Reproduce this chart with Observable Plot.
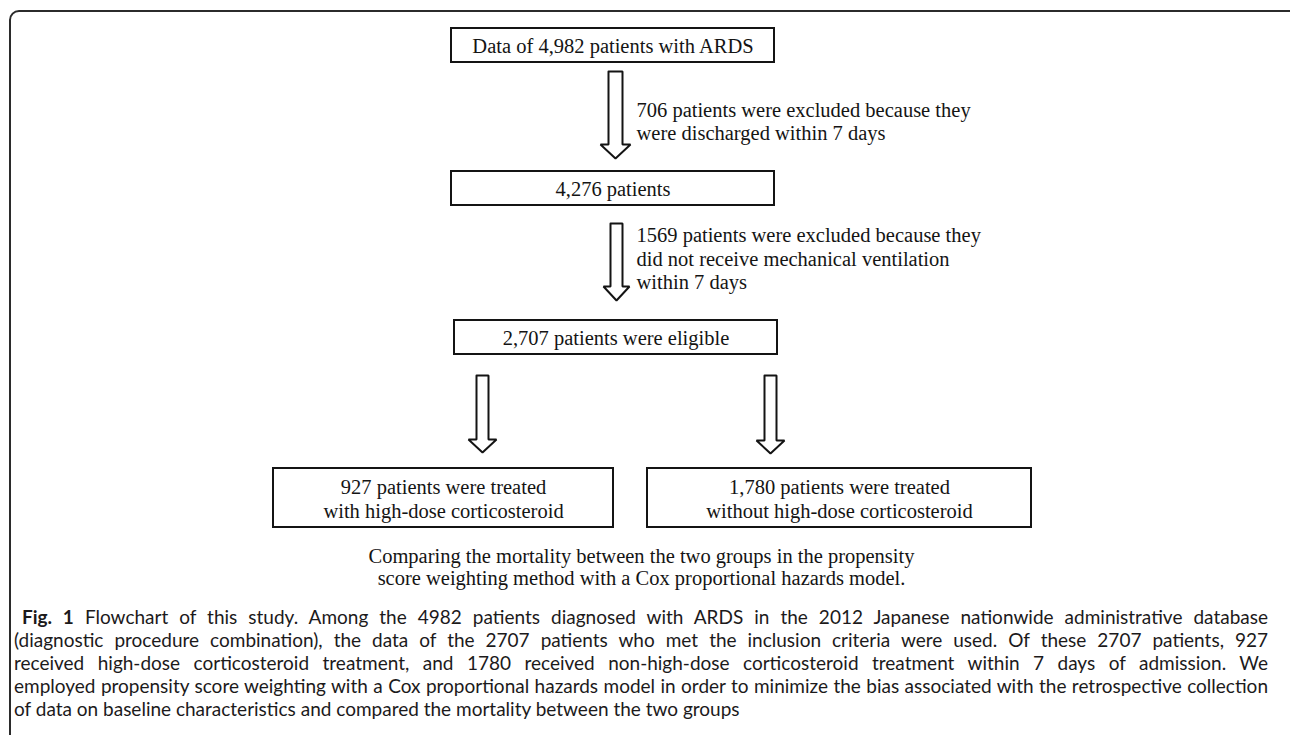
<!DOCTYPE html>
<html><head><meta charset="utf-8">
<script src="https://cdn.jsdelivr.net/npm/d3@7"></script>
<script src="https://cdn.jsdelivr.net/npm/@observablehq/plot@0.6"></script>
<style>
html,body{margin:0;padding:0;width:1290px;height:735px;overflow:hidden;background:#fff;}
#frame{position:absolute;left:9px;top:10px;width:1300px;height:800px;border:2px solid #2b2b2b;border-radius:10px;box-sizing:border-box;}
#chart{position:absolute;left:0;top:0;}
#caption{position:absolute;left:14px;top:605px;width:1254px;font-family:"Lato";font-size:17.5px;line-height:23px;color:#1c1a1b;}
#caption div{white-space:nowrap;text-align:justify;text-align-last:justify;}
#caption div.first{padding-left:8px;}
#caption div.last{text-align-last:left;}
#caption b{font-weight:700;}
#measure{position:absolute;left:0;top:-200px;white-space:nowrap;font-family:"Lato";visibility:hidden;}
</style></head><body>
<div id="frame"></div>
<div id="chart"></div>
<div id="caption"></div>
<span id="measure"></span>
<script>
// ---- content ----
const boxLabels = [
  "Data of 4,982 patients with ARDS",
  "4,276 patients",
  "2,707 patients were eligible",
  "927 patients were treated\nwith high-dose corticosteroid",
  "1,780 patients were treated\nwithout high-dose corticosteroid"
];
const exclusionNotes = [
  "706 patients were excluded because they\nwere discharged within 7 days",
  "1569 patients were excluded because they\ndid not receive mechanical ventilation\nwithin 7 days"
];
const outcomeNotes = [
  "Comparing the mortality between the two groups in the propensity\nscore weighting method with a Cox proportional hazards model."
];
const figLabel = "Fig. 1";
const captionLines = [
  " Flowchart of this study. Among the 4982 patients diagnosed with ARDS in the 2012 Japanese nationwide administrative database",
  "(diagnostic procedure combination), the data of the 2707 patients who met the inclusion criteria were used. Of these 2707 patients, 927",
  "received high-dose corticosteroid treatment, and 1780 received non-high-dose corticosteroid treatment within 7 days of admission. We",
  "employed propensity score weighting with a Cox proportional hazards model in order to minimize the bias associated with the retrospective collection",
  "of data on baseline characteristics and compared the mortality between the two groups"
];

// ---- layout (chart units) ----
const boxLayout = [
  {x1: 451, x2: 774, y1: 28, y2: 62},
  {x1: 451, x2: 774, y1: 171, y2: 205},
  {x1: 454, x2: 777, y1: 320, y2: 354},
  {x1: 273, x2: 613, y1: 468, y2: 527},
  {x1: 647, x2: 1031, y1: 468, y2: 527}
];
const arrowLayout = [
  {cx: 615, top: 71, neck: 144, tip: 158, shaft: 7, head: 15},
  {cx: 616, top: 223, neck: 286, tip: 300, shaft: 6, head: 13},
  {cx: 482, top: 375, neck: 439, tip: 452, shaft: 6, head: 14},
  {cx: 770, top: 375, neck: 440, tip: 453, shaft: 6, head: 14}
];
const noteLayout = [{x: 636, y: 99.5}, {x: 636, y: 225}];
const outcomeLayout = [{x: 641, y: 547}];

const boxes = boxLabels.map((label, i) => ({label, ...boxLayout[i]}));
const notes = exclusionNotes.map((label, i) => ({label, ...noteLayout[i]}));
const outcomes = outcomeNotes.map((label, i) => ({label, ...outcomeLayout[i]}));
const arrowPts = arrowLayout.flatMap((a, i) => [
  [a.cx - a.shaft, a.top], [a.cx + a.shaft, a.top], [a.cx + a.shaft, a.neck],
  [a.cx + a.head, a.neck], [a.cx, a.tip], [a.cx - a.head, a.neck],
  [a.cx - a.shaft, a.neck], [a.cx - a.shaft, a.top]
].map(([x, y]) => ({id: i, x, y})));

const serif = "'Liberation Serif', 'Times New Roman', serif";
const ink = "#141414";
const fs = 20.5;

const chart = Plot.plot({
  width: 1290,
  height: 605,
  margin: 0,
  style: {background: "transparent", overflow: "visible"},
  x: {domain: [0, 1290], axis: null},
  y: {domain: [0, 605], reverse: true, axis: null},
  marks: [
    Plot.line(arrowPts, {x: "x", y: "y", z: "id", stroke: ink, strokeWidth: 2, fill: "white", strokeLinejoin: "miter", curve: "linear"}),
    Plot.rect(boxes, {x1: "x1", x2: "x2", y1: "y1", y2: "y2", fill: "white", stroke: ink, strokeWidth: 2}),
    Plot.text(boxes, {x: d => (d.x1 + d.x2) / 2, y: d => (d.y1 + d.y2) / 2, text: "label", fontFamily: serif, fontSize: fs, lineHeight: 1.17, fill: ink}),
    Plot.text(notes, {x: "x", y: "y", text: "label", textAnchor: "start", lineAnchor: "top", fontFamily: serif, fontSize: fs, lineHeight: 1.15, fill: ink}),
    Plot.text(outcomes, {x: "x", y: "y", text: "label", lineAnchor: "top", fontFamily: serif, fontSize: fs, lineHeight: 1.07, fill: ink})
  ]
});
document.getElementById("chart").appendChild(chart);

// ---- figure caption ----
const cap = document.getElementById("caption");
const measure = document.getElementById("measure");
// fit the font size so the longest (tightest) caption line sets naturally at the full width
measure.style.fontSize = "20px";
let maxW = 0;
captionLines.forEach((line, i) => {
  measure.textContent = (i === 0 ? figLabel : "") + line;
  maxW = Math.max(maxW, measure.getBoundingClientRect().width + (i === 0 ? 10 : 0));
});
const capSize = Math.min(19, 20 * 1252 / maxW);
cap.style.fontSize = capSize + "px";

captionLines.forEach((line, i) => {
  const div = document.createElement("div");
  if (i === 0) {
    const b = document.createElement("b");
    b.textContent = figLabel;
    div.appendChild(b);
    div.className = "first";
  }
  div.appendChild(document.createTextNode(line));
  if (i === captionLines.length - 1) div.className = "last";
  cap.appendChild(div);
});
</script></body></html>
